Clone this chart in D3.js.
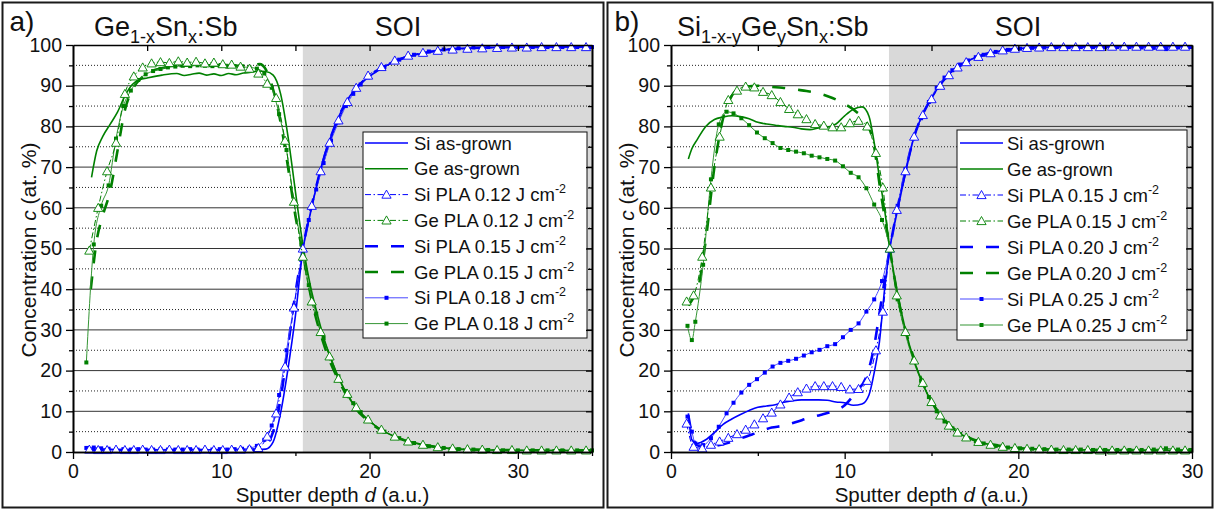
<!DOCTYPE html>
<html>
<head>
<meta charset="utf-8">
<script src="https://cdn.jsdelivr.net/npm/d3@7"></script>
<style>
  body { margin: 0; background: #fff; }
  svg { display: block; font-family: "Liberation Sans", Arial, sans-serif; }
</style>
</head>
<body>
<div id="chart"></div>
<script>
// ---- panel a) Ge(1-x)Sn(x):Sb on SOI ----
const aGrownDepth = [1.25,1.6,2.0,2.5,3.0,3.5,4.0,4.5,5.0,6.0,7.0,7.5,8.0,8.5,9.0,9.5,10.0,10.5,11.0,11.5,12.0,12.5,13.0,13.5,14.0,14.5,15.0,15.5,16.0,16.5,17.0,17.5,18.0,18.5,19.0,20,21,22,23,24,25,26,28,31,35];
const aGrownGe = [67.5,74,77.5,80.5,83.5,87.5,90.3,91.5,91.9,92.6,93.0,92.5,92.8,93.1,92.6,92.9,92.5,93.0,92.7,93.1,93.3,93.6,93.5,92.6,88,77.5,64,51,41,33.5,27,22,17.5,14,11.3,7.5,5.0,3.4,2.3,1.5,1.0,0.7,0.5,0.4,0.35];
const aGrownSi = [0.6,0.5,0.6,0.6,0.5,0.6,0.5,0.6,0.6,0.5,0.6,0.5,0.6,0.6,0.5,0.6,0.5,0.6,0.6,0.5,0.6,0.6,0.7,2.5,9.6,20.5,33.5,49.5,58.5,66.5,73.5,78.5,83,86.5,89,92.3,94.7,96.4,97.5,98.3,98.8,99.1,99.4,99.5,99.6];

const aTriDepth = [1.1,1.7,2.3,2.9,3.5,4.1,4.7,5.3,5.9,6.5,7.1,7.7,8.3,8.9,9.5,10.1,10.7,11.3,11.9,12.5,13.1,13.7,14.3,14.9,15.5,16.1,16.7,17.3,17.9,18.5,19.1,19.9,20.8,21.7,22.6,23.6,24.6,25.6,26.6,27.6,28.6,29.6,30.6,31.6,32.6,33.6,34.6];
const aTriGe = [49.5,60,69,76,88,92.3,94.5,95.5,95.8,95.6,96,95.7,95.9,95.5,95.7,95.3,95.2,94.7,94.2,93,90.5,87,76.5,61.5,48,37,29.5,23.5,18,14.3,11,8,5.5,3.8,2.6,1.8,1.2,0.9,0.7,0.6,0.5,0.5,0.4,0.4,0.4,0.4,0.4];
const aTriSi = [0.6,0.5,0.5,0.6,0.5,0.5,0.6,0.5,0.5,0.6,0.5,0.5,0.5,0.6,0.5,0.5,0.6,0.6,0.7,1.0,3.8,9.5,21,35.5,50,60.5,69,76,81.5,86,89.5,92.5,94.6,96.2,97.4,98.1,98.6,98.9,99.1,99.2,99.3,99.4,99.4,99.5,99.5,99.5,99.5];

const aDashDepth = [1.2,1.6,2.0,2.5,3.0,3.5,4.0,4.5,5.0,6.0,7.0,8.0,9.0,10.0,11.0,12.0,12.6,13.0,13.5,14.0,14.5,15.0,15.5,16.0,17,18,19,20,21,22,23,24,25,27,30,35];
const aDashGe = [40,52,58,64,74,84,89,91.5,93,94.3,94.8,95,95,95,94.9,95,95.3,94,89,81,70,58,49,39,25.5,17,11,7.3,4.9,3.3,2.2,1.5,1.0,0.6,0.45,0.4];
const aDashSi = [0.5,0.5,0.5,0.5,0.5,0.5,0.5,0.5,0.5,0.5,0.5,0.5,0.5,0.5,0.5,0.5,0.6,1.5,5,13,26,39,50,59,73,83,89,92.4,94.8,96.4,97.5,98.3,98.8,99.3,99.5,99.6];

const aSqDepth = [0.9,1.4,1.9,2.4,2.9,3.4,3.9,4.4,4.9,5.4,5.9,6.4,6.9,7.4,7.9,8.4,8.9,9.4,9.9,10.4,10.9,11.4,11.9,12.4,12.9,13.4,13.9,14.4,14.9,15.4,15.9,16.4,16.9,17.4,17.9,18.4,18.9,19.4,19.9,21,22,23,24,25,26,27,28,29,30,31,32,33,34,35];
const aSqGe = [22,51,60.5,65.5,77,85,88.8,91.4,92.8,93.6,94.1,94.5,94.7,94.9,94.8,95,94.9,94.8,94.9,94.7,94.8,94.6,94.5,94.2,93,89.5,83,74.2,61.5,51,41,34,28,23,18.6,15,12,9.8,8,5,3.4,2.2,1.4,1.0,0.7,0.6,0.5,0.4,0.4,0.4,0.4,0.4,0.4,0.4];
const aSqSi = [1.0,1.1,0.9,0.8,0.7,0.7,0.6,0.7,0.6,0.6,0.7,0.6,0.6,0.6,0.7,0.6,0.6,0.6,0.7,0.6,0.7,0.8,1.0,1.5,3,6.5,14,25,36,47.5,57,64.5,71,76.5,81,85,88,90.3,92,94.6,96.4,97.6,98.4,98.9,99.2,99.4,99.5,99.5,99.5,99.5,99.5,99.5,99.5,99.5];

// ---- panel b) Si(1-x-y)Ge(y)Sn(x):Sb on SOI ----
const bGrownDepth = [1.0,1.2,1.5,2.0,2.5,3.0,3.5,4.0,4.5,5.0,5.5,6.0,6.5,7.0,7.5,8.0,8.5,9.0,9.5,10.0,10.5,11.0,11.4,11.7,12.0,12.3,12.6,13.0,13.5,14.0,14.5,15.0,15.5,16.0,16.5,17.0,18,19,20,22,25,30];
const bGrownGe = [72,74.5,76.7,80,81.7,82.3,82.6,82.4,81.9,81,80.6,80.3,80,79.8,79.4,79.2,79.6,79.8,80.6,82.6,84.2,84.8,82.5,76,67.5,59.5,50,40,30,22.5,16.8,12.2,9,6.6,4.9,3.7,2.2,1.4,0.9,0.6,0.45,0.4];
const bGrownSi = [9.5,3.0,2.1,3.0,4.8,6.8,8.1,9.2,10.2,11,11.3,11.6,12.2,12.6,12.8,12.8,12.8,12.7,12.3,12.1,11.5,11.8,14,19.5,27,40,50,58.5,68.5,77.5,83,87,90.2,92.8,94.6,95.9,97.6,98.6,99.1,99.5,99.6,99.7];

const bTriDepth = [0.9,1.3,1.8,2.3,2.8,3.3,3.8,4.3,4.8,5.3,5.8,6.3,6.8,7.3,7.8,8.3,8.8,9.3,9.8,10.3,10.8,11.3,11.8,12.2,12.6,13.0,13.5,14.0,14.5,15.0,15.5,16.0,16.5,17.0,17.7,18.4,19.1,19.8,20.5,21.2,21.9,22.6,23.3,24.0,24.7,25.4,26.1,26.8,27.5,28.2,28.9,29.6];
const bTriGe = [37,38.5,48,65,77.5,86.5,88.8,89.8,89.6,88.5,87.7,86,84.3,83,81.8,80.6,80.2,79.8,79.8,80.8,81.4,80,73.5,65,50,38.5,29.5,22.5,17,12.3,9.0,6.5,4.8,3.6,2.5,1.8,1.3,1.0,0.8,0.7,0.6,0.5,0.5,0.5,0.4,0.4,0.4,0.4,0.4,0.4,0.4,0.4];
const bTriSi = [7,1.3,0.9,1.8,2.6,3.5,4.4,5.5,6.8,8.3,9.7,11.7,13.4,14.7,15.6,16.2,16.2,16.2,16,15.4,15.5,17.5,25,34.5,50,59.5,69,77.5,82.8,86.7,90,92.6,94.5,95.8,97.1,98,98.7,99.1,99.3,99.4,99.5,99.5,99.5,99.5,99.5,99.6,99.6,99.6,99.6,99.6,99.6,99.6];

const bDashDepth = [1.0,1.3,1.6,2.0,2.5,3.0,3.5,4.0,5.0,5.8,6.4,7.3,7.8,8.6,9.1,10.0,10.7,11.2,11.7,12.0,12.6,13.0,13.5,14.0,14.5,15.0,15.5,16.0,17,18,19,20,22,25,30];
const bDashGe = [36,38,41,52,70,82,87.5,89.5,90,89.7,89.5,89,88.7,88,87.3,85.5,83.5,81.5,75,66,50,39.5,30,22.8,17,12.5,9.2,6.8,3.8,2.3,1.5,1.0,0.6,0.5,0.4];
const bDashSi = [9,3,1.5,1.4,1.5,1.9,2.5,3.3,4.8,6.0,6.4,7.5,8.2,9.1,9.7,11.5,15,18,26,34,50,59,69,77.5,83,87,90.3,92.7,95.9,97.6,98.6,99.1,99.5,99.6,99.7];

const bSqDepth = [0.95,1.2,1.4,1.85,2.3,2.75,3.2,3.6,4.05,4.5,4.95,5.4,5.85,6.3,6.75,7.2,7.65,8.1,8.55,9.0,9.45,9.9,10.35,10.8,11.25,11.7,12.15,12.6,13.05,13.5,13.95,14.4,14.85,15.3,15.75,16.2,16.65,17.1,17.55,18.0,18.7,19.4,20.1,20.8,21.5,22.2,22.9,23.6,24.3,25.0,25.7,26.4,27.1,27.8,28.5,29.2,29.9];
const bSqGe = [31,27.5,32,46,67,80.5,83.6,83.2,82,80.3,78.5,77.1,75.9,74.7,74.2,73.8,73.4,72.8,72.4,72,71.6,70.2,68.6,67.5,64.8,60.8,57,50,37.5,29,22.5,17.5,13.5,10,7.5,5.8,4.4,3.4,2.7,2.1,1.5,1.1,0.9,0.8,0.7,0.6,0.6,0.6,0.5,0.5,0.5,0.5,0.5,0.6,0.9,0.6,0.5];
const bSqSi = [8.7,5,2.1,1.7,3.4,6.2,9.5,12.1,14.6,16.5,17.9,19.5,21,21.9,22.4,22.9,23.7,24.5,25.1,26,26.5,28.2,30,31.6,34.5,37.5,42,50,60.5,69.5,77,82,86,89.5,92,93.8,95.2,96.2,97,97.6,98.3,98.8,99.1,99.3,99.4,99.5,99.5,99.5,99.5,99.5,99.5,99.5,99.4,99.3,99.0,99.4,99.5];

// axes / labels
const yTicks = [0,10,20,30,40,50,60,70,80,90,100];
const xTicks = [0,10,20,30];
const fluencesA = ['0.12','0.15','0.18'];
const fluencesB = ['0.15','0.20','0.25'];
const soiStartA = 15.5, soiStartB = 12.55;

const blue = '#0000ff', green = '#008000';
const font = '"Liberation Sans", Arial, sans-serif';

const svg = d3.select('#chart').append('svg')
  .attr('width', 1215)
  .attr('height', 510);

const y = d3.scaleLinear().domain([0, 100]).range([452, 45]);

// line styles, in legend order: as-grown, PLA low (triangles), PLA mid (dashed), PLA high (squares)
const kinds = {
  grown: {width: 1.6, dash: null, marker: null, light: false},
  tri:   {width: 1, dash: '6,2.5,1.5,2.5', marker: 'tri', light: false},
  dash:  {width: 2.6, dash: '13,13', marker: null, light: false},
  sq:    {width: 1, dash: null, marker: 'sq', light: true}
};
const lightColor = {};
lightColor[blue] = '#4848ff';
lightColor[green] = '#359535';

function drawPanel(p) {
  const g = svg.append('g');
  const x = d3.scaleLinear().domain([0, p.xMax]).range([p.left, p.right]);

  // frame of the panel
  g.append('rect')
    .attr('x', p.box[0]).attr('y', p.box[1])
    .attr('width', p.box[2]).attr('height', p.box[3])
    .attr('fill', 'none').attr('stroke', '#1a1a1a').attr('stroke-width', 2);

  // SOI region
  g.append('rect')
    .attr('x', x(p.soi)).attr('y', y(100))
    .attr('width', x(p.xMax) - x(p.soi)).attr('height', y(0) - y(100))
    .attr('fill', '#d9d9d9');

  // grid
  g.append('g').selectAll('line')
    .data(d3.range(10, 100, 10))
    .join('line')
    .attr('x1', x(0)).attr('x2', x(p.xMax))
    .attr('y1', d => y(d)).attr('y2', d => y(d))
    .attr('stroke', '#333').attr('stroke-width', 1);
  g.append('g').selectAll('line')
    .data(d3.range(5, 100, 10))
    .join('line')
    .attr('x1', x(0)).attr('x2', x(p.xMax))
    .attr('y1', d => y(d)).attr('y2', d => y(d))
    .attr('stroke', '#222').attr('stroke-width', 1)
    .attr('stroke-dasharray', '1,2');

  // legend box
  const L = p.legend;
  g.append('rect')
    .attr('x', L.x).attr('y', L.y).attr('width', L.w).attr('height', L.h)
    .attr('fill', '#fff').attr('stroke', '#111').attr('stroke-width', 1);

  const line = d3.line()
    .x(d => x(d[0]))
    .y(d => y(d[1]))
    .curve(d3.curveMonotoneX);

  const drawOrder = ['dash', 'sq', 'grown', 'tri'];
  drawOrder.forEach(k => {
    p.series.filter(s => s.kind === k).forEach(s => {
      const st = kinds[s.kind];
      const pts = d3.zip(s.depth, s.vals);
      g.append('path')
        .datum(pts)
        .attr('d', line)
        .attr('fill', 'none')
        .attr('stroke', st.light ? lightColor[s.color] : s.color)
        .attr('stroke-width', st.width)
        .attr('stroke-dasharray', st.dash);
      if (st.marker === 'sq') {
        g.append('g').selectAll('rect')
          .data(pts)
          .join('rect')
          .attr('x', d => x(d[0]) - 2).attr('y', d => y(d[1]) - 2)
          .attr('width', 4).attr('height', 4)
          .attr('fill', s.color);
      }
      if (st.marker === 'tri') {
        g.append('g').selectAll('path')
          .data(pts)
          .join('path')
          .attr('transform', d => `translate(${x(d[0])},${y(d[1])})`)
          .attr('d', 'M0,-4.5L4.6,3.6L-4.6,3.6Z')
          .attr('fill', '#fff')
          .attr('stroke', s.color)
          .attr('stroke-width', 0.9);
      }
    });
  });

  // legend entries
  p.series.forEach((s, i) => {
    const st = kinds[s.kind];
    const cy = L.row0 + i * L.step;
    g.append('line')
      .attr('x1', L.lx0).attr('x2', L.lx1)
      .attr('y1', cy).attr('y2', cy)
      .attr('stroke', st.light ? lightColor[s.color] : s.color)
      .attr('stroke-width', st.width)
      .attr('stroke-dasharray', st.dash);
    const mx = (L.lx0 + L.lx1) / 2;
    if (st.marker === 'sq') {
      g.append('rect').attr('x', mx - 2).attr('y', cy - 2)
        .attr('width', 4).attr('height', 4).attr('fill', s.color);
    }
    if (st.marker === 'tri') {
      g.append('path').attr('transform', `translate(${mx},${cy})`)
        .attr('d', 'M0,-4.5L4.6,3.6L-4.6,3.6Z')
        .attr('fill', '#fff').attr('stroke', s.color).attr('stroke-width', 0.9);
    }
    const t = g.append('text')
      .attr('x', L.tx).attr('y', cy)
      .attr('dy', '0.36em')
      .attr('font-size', 18.5)
      .attr('fill', '#111')
      .text(s.label);
    if (s.sup) {
      t.append('tspan').attr('dy', -8).attr('font-size', 12.5).text(s.sup);
    }
  });

  // axes
  const styleAxis = sel => {
    sel.attr('font-family', font).attr('font-size', 19.5);
    sel.select('.domain').attr('stroke', '#000').attr('stroke-width', 1.6);
    sel.selectAll('.tick line').attr('stroke', '#000').attr('stroke-width', 1.3);
    sel.selectAll('.tick text').attr('fill', '#111');
  };
  const xMinor = d3.range(5, p.xMax + 0.01, 10);
  const xAll = d3.range(5, p.xMax - 0.01, 5);
  const yMinor = d3.range(5, 100, 10);

  g.append('g').attr('transform', `translate(0,${y(0)})`)
    .call(d3.axisBottom(x).tickValues(xTicks).tickSize(7).tickPadding(5).tickSizeOuter(0))
    .call(styleAxis);
  g.append('g').attr('transform', `translate(0,${y(0)})`)
    .call(d3.axisBottom(x).tickValues(xMinor).tickSize(4).tickFormat('').tickSizeOuter(0))
    .call(styleAxis);
  g.append('g').attr('transform', `translate(0,${y(100)})`)
    .call(d3.axisTop(x).tickValues(xAll).tickSize(-6).tickFormat('').tickSizeOuter(0))
    .call(styleAxis);
  g.append('g').attr('transform', `translate(${p.left},0)`)
    .call(d3.axisLeft(y).tickValues(yTicks).tickSize(7).tickPadding(4).tickSizeOuter(0))
    .call(styleAxis);
  g.append('g').attr('transform', `translate(${p.left},0)`)
    .call(d3.axisLeft(y).tickValues(yMinor).tickSize(4).tickFormat('').tickSizeOuter(0))
    .call(styleAxis);
  g.append('g').attr('transform', `translate(${p.right},0)`)
    .call(d3.axisRight(y).tickValues(yTicks.slice(1, -1)).tickSize(-6).tickFormat('').tickSizeOuter(0))
    .call(styleAxis);
  g.append('g').attr('transform', `translate(${p.right},0)`)
    .call(d3.axisRight(y).tickValues(yMinor).tickSize(-4).tickFormat('').tickSizeOuter(0))
    .call(styleAxis);

  // axis titles
  const xl = g.append('text')
    .attr('x', (p.left + p.right) / 2).attr('y', 502)
    .attr('text-anchor', 'middle').attr('font-size', 20.5).attr('fill', '#111');
  xl.append('tspan').text('Sputter depth ');
  xl.append('tspan').attr('font-style', 'italic').text('d');
  xl.append('tspan').text(' (a.u.)');

  const yl = g.append('text')
    .attr('transform', `translate(${p.left - 37},250) rotate(-90)`)
    .attr('text-anchor', 'middle').attr('font-size', 21).attr('fill', '#111');
  yl.append('tspan').text('Concentration ');
  yl.append('tspan').attr('font-style', 'italic').text('c');
  yl.append('tspan').text(' (at. %)');

  // panel titles
  g.append('text').attr('x', p.box[0] + 7).attr('y', 31)
    .attr('font-size', 28).attr('fill', '#111').text(p.tag);
  const tt = g.append('text').attr('x', p.titleX).attr('y', 36)
    .attr('font-size', 27).attr('fill', '#111');
  let lowered = false;
  p.title.forEach(part => {
    const span = tt.append('tspan').text(part.t);
    if (part.sub) {
      span.attr('dy', lowered ? 0 : 7).attr('font-size', 18);
      lowered = true;
    } else if (lowered) {
      span.attr('dy', -7);
      lowered = false;
    }
  });
  g.append('text').attr('x', p.soiX).attr('y', 36)
    .attr('text-anchor', 'middle').attr('font-size', 27).attr('fill', '#111').text('SOI');
}

function makeSeries(fl, d) {
  return [
    {label: 'Si as-grown', kind: 'grown', color: blue, depth: d.grownDepth, vals: d.grownSi},
    {label: 'Ge as-grown', kind: 'grown', color: green, depth: d.grownDepth, vals: d.grownGe},
    {label: `Si PLA ${fl[0]} J cm`, sup: '-2', kind: 'tri', color: blue, depth: d.triDepth, vals: d.triSi},
    {label: `Ge PLA ${fl[0]} J cm`, sup: '-2', kind: 'tri', color: green, depth: d.triDepth, vals: d.triGe},
    {label: `Si PLA ${fl[1]} J cm`, sup: '-2', kind: 'dash', color: blue, depth: d.dashDepth, vals: d.dashSi},
    {label: `Ge PLA ${fl[1]} J cm`, sup: '-2', kind: 'dash', color: green, depth: d.dashDepth, vals: d.dashGe},
    {label: `Si PLA ${fl[2]} J cm`, sup: '-2', kind: 'sq', color: blue, depth: d.sqDepth, vals: d.sqSi},
    {label: `Ge PLA ${fl[2]} J cm`, sup: '-2', kind: 'sq', color: green, depth: d.sqDepth, vals: d.sqGe}
  ];
}

drawPanel({
  box: [2.5, 2.5, 601, 505],
  left: 73, right: 592, xMax: 35, soi: soiStartA,
  tag: 'a)', titleX: 94, soiX: 398,
  title: [{t: 'Ge'}, {t: '1-x', sub: true}, {t: 'Sn'}, {t: 'x', sub: true}, {t: ':Sb'}],
  legend: {x: 363, y: 132, w: 224, h: 206, row0: 143, step: 25.8, lx0: 365, lx1: 408, tx: 414},
  series: makeSeries(fluencesA, {
    grownDepth: aGrownDepth, grownSi: aGrownSi, grownGe: aGrownGe,
    triDepth: aTriDepth, triSi: aTriSi, triGe: aTriGe,
    dashDepth: aDashDepth, dashSi: aDashSi, dashGe: aDashGe,
    sqDepth: aSqDepth, sqSi: aSqSi, sqGe: aSqGe
  })
});

drawPanel({
  box: [607.5, 2.5, 605, 505],
  left: 671, right: 1192, xMax: 30, soi: soiStartB,
  tag: 'b)', titleX: 677, soiX: 1018,
  title: [{t: 'Si'}, {t: '1-x-y', sub: true}, {t: 'Ge'}, {t: 'y', sub: true}, {t: 'Sn'}, {t: 'x', sub: true}, {t: ':Sb'}],
  legend: {x: 957, y: 130, w: 230, h: 210, row0: 143, step: 26, lx0: 960, lx1: 1003, tx: 1007},
  series: makeSeries(fluencesB, {
    grownDepth: bGrownDepth, grownSi: bGrownSi, grownGe: bGrownGe,
    triDepth: bTriDepth, triSi: bTriSi, triGe: bTriGe,
    dashDepth: bDashDepth, dashSi: bDashSi, dashGe: bDashGe,
    sqDepth: bSqDepth, sqSi: bSqSi, sqGe: bSqGe
  })
});
</script>
</body>
</html>
